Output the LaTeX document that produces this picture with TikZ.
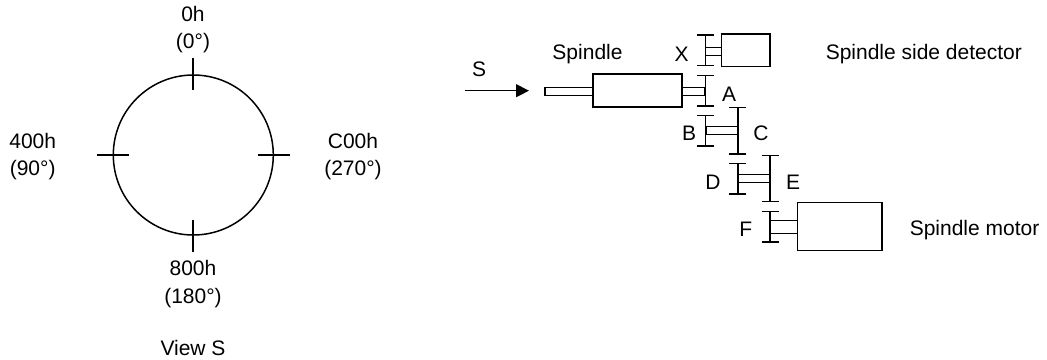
\documentclass[tikz,border=0pt]{standalone}
\usepackage{fontspec}
\setmainfont{Liberation Sans}
\usetikzlibrary{arrows.meta}

\begin{document}
\begin{tikzpicture}[x=1pt,y=-1pt,line width=1.5pt,
    lbl/.style={font=\fontsize{21}{27.5}\selectfont,inner sep=0pt,align=center},
    tick/.style={line width=1.8pt},
    gear/.style={line width=1.6pt,{Bar[width=17pt,line width=1.6pt]}-{Bar[width=17pt,line width=1.6pt]}},
    part/.style={draw,fill=white,inner sep=0pt,minimum width=#1}]
  \useasboundingbox (0,0) rectangle (1047,359);
  % view S
  \node[draw,circle,minimum size=160pt,inner sep=0pt] (dial) at (193.3,155) {};
  \draw[tick] (dial.north) ++(0,-16) -- ++(0,32);
  \draw[tick] (dial.south) ++(0,-16) -- ++(0,32);
  \draw[tick] (dial.west) ++(-16,0) -- ++(32,0);
  \draw[tick] (dial.east) ++(-16,0) -- ++(32,0);
  \node[lbl] (top) at (193,29.5) {0h\\(0°)};
  \node[lbl] (left) at (32.7,156.7) {400h\\(90°)};
  \node[lbl] (right) at (353,156.7) {C00h\\(270°)};
  \node[lbl] (bottom) at (193,284) {800h\\(180°)};
  \node[lbl,anchor=base] (view) at (193,355.5) {View S};
  % shaft and spindle
  \node[part=48pt,minimum height=8pt] (tail) at (569,91.4) {};
  \node[part=89pt,minimum height=32.6pt] (spindle) at (637.5,90.5) {};
  \node[part=23pt,minimum height=8pt] (shaftA) at (693.5,91.4) {};
  \coordinate (sfrom) at (465,90.7);
  \coordinate (sto) at (529,90.7);
  \draw[line width=1.1pt,-{Triangle[length=13pt,width=13pt]}] (sfrom) -- (sto);
  % gears
  \node[part=16pt,minimum height=8pt] (shaftX) at (713.3,51.5) {};
  \node[part=32pt,minimum height=8pt] (shaftBC) at (722,130.7) {};
  \node[part=32pt,minimum height=8pt] (shaftDE) at (754,178.3) {};
  \node[part=27.7pt,minimum height=12.6pt] (shaftF) at (783.8,227) {};
  \draw[gear] (705.3,34) -- (705.3,66.3);
  \draw[gear] (705.3,74.5) -- (705.3,106.5);
  \draw[gear] (705.6,114.5) -- (705.6,146.7);
  \draw[gear] (737.8,106.5) -- (737.8,154.5);
  \draw[gear] (737.8,162.7) -- (737.8,194.5);
  \draw[gear] (770,154.5) -- (770,202.3);
  \draw[gear] (770,210.7) -- (770,242.7);
  % boxes
  \node[part=48.5pt,minimum height=32.5pt] (detector) at (745.7,50.2) {};
  \node[part=84.3pt,minimum height=48.4pt] (motor) at (839.8,226.5) {};
  % labels
  \node[lbl] (s) at (479,69.5) {S};
  \node[lbl] (spindlelbl) at (587.5,54.5) {Spindle};
  \node[lbl] (x) at (681.7,54) {X};
  \node[lbl] (a) at (729,94) {A};
  \node[lbl] (b) at (689,133.5) {B};
  \node[lbl] (c) at (761,133.5) {C};
  \node[lbl] (d) at (713,182) {D};
  \node[lbl] (e) at (793,182) {E};
  \node[lbl] (f) at (745.7,229.5) {F};
  \node[lbl,anchor=west] (detectorlbl) at (825,54.5) {Spindle side detector};
  \node[lbl,anchor=west] (motorlbl) at (909,230.5) {Spindle motor};
\end{tikzpicture}
\end{document}
